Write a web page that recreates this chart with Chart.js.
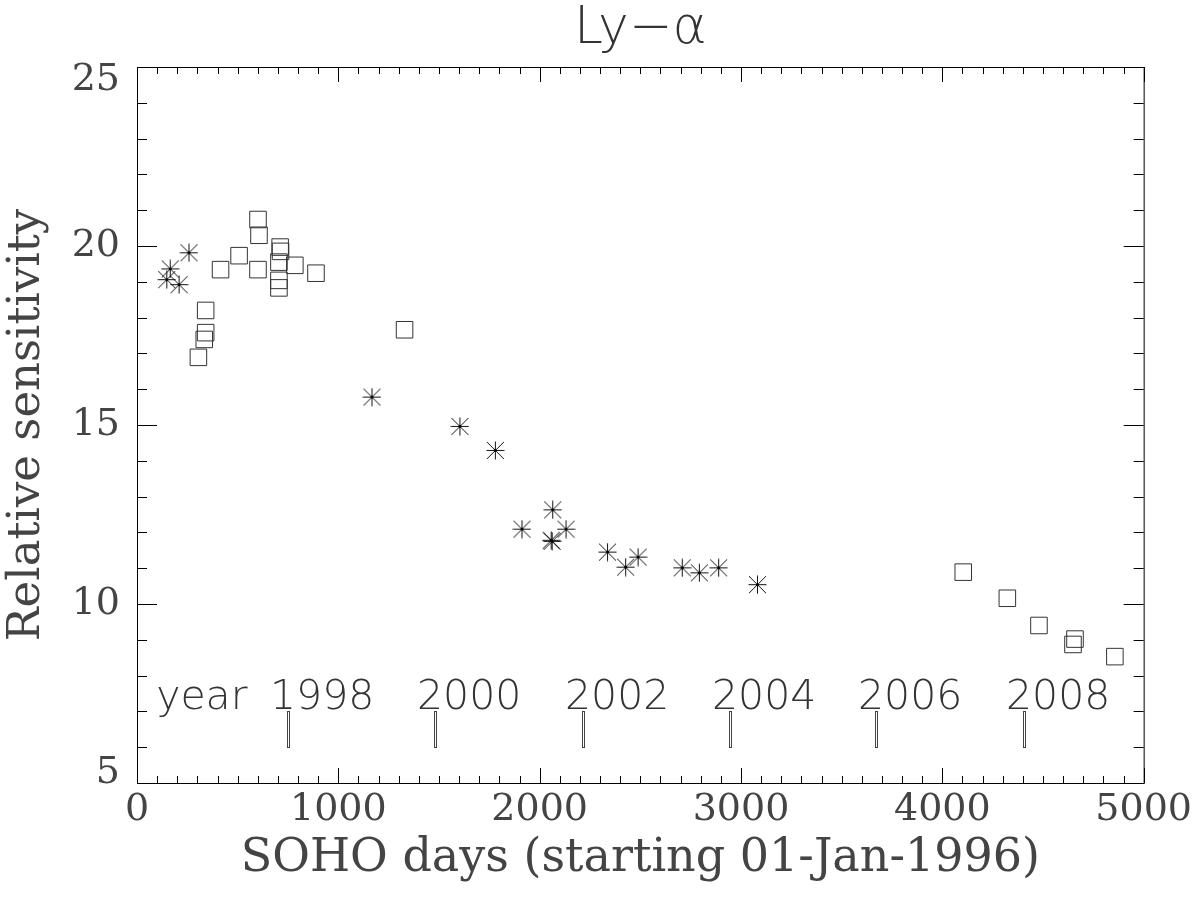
<!DOCTYPE html>
<html>
<head>
<meta charset="utf-8">
<script src="https://cdn.jsdelivr.net/npm/chart.js@4"></script>
<style>
  body { margin: 0; background: #fff; }
</style>
</head>
<body>
<canvas id="lyaChart" width="1200" height="911"></canvas>
<script>
// Ly-alpha relative sensitivity vs SOHO days
const starDays = [148, 165, 209, 258, 1167, 1604, 1780, 1912, 2065, 2062, 2057, 2131, 2337, 2427, 2489, 2708, 2793, 2889, 3082];
const starValues = [19.06, 19.36, 18.92, 19.81, 15.78, 14.96, 14.29, 12.09, 12.63, 11.75, 11.78, 12.09, 11.45, 11.03, 11.31, 11.01, 10.87, 11.01, 10.54];

const squareDays = [305, 334, 341, 341, 415, 507, 601, 601, 606, 705, 705, 705, 711, 713, 784, 889, 1329, 4104, 4323, 4480, 4649, 4659, 4857];
const squareValues = [16.89, 17.39, 17.58, 18.20, 19.34, 19.73, 20.74, 19.34, 20.30, 19.55, 19.04, 18.83, 19.97, 19.85, 19.46, 19.24, 17.66, 10.89, 10.16, 9.40, 8.87, 9.02, 8.53];

// year markers along the bottom
const yearDays = [751, 1482, 2213, 2946, 3672, 4404];
const yearLabels = ['1998', '2000', '2002', '2004', '2006', '2008'];
const markerRange = [6, 7];
const yearLabelLevel = 7.07;
const yearWordDay = 95;

const xTicks = [0, 1000, 2000, 3000, 4000, 5000];
const yTicks = [5, 10, 15, 20, 25];
const chartTitle = 'Ly\u2212\u03b1';

// asterisk marker, 8 rays
function makeAsterisk() {
    const c = document.createElement('canvas');
    c.width = 19;
    c.height = 19;
    const g = c.getContext('2d');
    g.strokeStyle = '#111';
    g.lineWidth = 1;
    g.beginPath();
    g.moveTo(0.5, 9.5); g.lineTo(18.5, 9.5);
    g.moveTo(9.5, 0.5); g.lineTo(9.5, 18.5);
    g.moveTo(1, 1); g.lineTo(18, 18);
    g.moveTo(18, 1); g.lineTo(1, 18);
    g.stroke();
    g.fillStyle = '#000';
    g.fillRect(8.5, 8.5, 2, 2);
    return c;
}

const serif = '"DejaVu Serif", serif';
const sans = '"DejaVu Sans", sans-serif';

// title, box, inward ticks, y labels and year markers
const framePlugin = {
    id: 'frame',
    afterDraw(chart) {
        const { ctx, chartArea: a, scales: { x, y } } = chart;
        ctx.save();
        ctx.strokeStyle = '#000';
        ctx.lineWidth = 1;
        ctx.strokeRect(a.left + 0.5, a.top + 0.5, a.right - a.left, a.bottom - a.top);

        ctx.beginPath();
        for (let d = x.min; d <= x.max; d += 100) {
            const px = Math.round(x.getPixelForValue(d)) + 0.5;
            const len = d % 1000 === 0 ? 15 : 7;
            ctx.moveTo(px, a.bottom); ctx.lineTo(px, a.bottom - len);
            ctx.moveTo(px, a.top); ctx.lineTo(px, a.top + len);
        }
        for (let v = y.min; v <= y.max; v += 1) {
            const py = Math.round(y.getPixelForValue(v)) + 0.5;
            const len = v % 5 === 0 ? 20 : 10;
            ctx.moveTo(a.left, py); ctx.lineTo(a.left + len, py);
            ctx.moveTo(a.right, py); ctx.lineTo(a.right - len, py);
        }
        ctx.stroke();

        // y tick labels, end labels kept inside the box like the original
        ctx.fillStyle = '#444';
        ctx.font = '38px ' + serif;
        ctx.textAlign = 'right';
        ctx.textBaseline = 'middle';
        yTicks.forEach(v => {
            const py = Math.min(Math.max(y.getPixelForValue(v), a.top + 13), a.bottom - 10);
            ctx.fillText(String(v), a.left - 17, py);
        });

        // title centred on the plot box
        ctx.fillStyle = '#333';
        ctx.font = '200 52px ' + sans;
        ctx.textAlign = 'center';
        ctx.textBaseline = 'alphabetic';
        ctx.fillText(chartTitle, (a.left + a.right) / 2, 43);

        ctx.textAlign = 'left';
        ctx.strokeStyle = '#444';
        ctx.font = '200 41px ' + sans;
        const top = Math.round(y.getPixelForValue(markerRange[1]));
        const bot = Math.round(y.getPixelForValue(markerRange[0]));
        const labelY = y.getPixelForValue(yearLabelLevel);
        yearDays.forEach((d, i) => {
            const px = Math.round(x.getPixelForValue(d));
            ctx.strokeRect(px - 1 + 0.5, top + 0.5, 2, bot - top);
            ctx.fillText(yearLabels[i], px - 18, labelY);
        });
        ctx.fillText('year', x.getPixelForValue(yearWordDay), labelY);
        ctx.restore();
    }
};

const ctxLya = document.getElementById('lyaChart').getContext('2d');
const lyaChart = new Chart(ctxLya, {
    type: 'scatter',
    data: {
        datasets: [
            {
                label: 'asterisks',
                data: starDays.map((d, i) => ({ x: d, y: starValues[i] })),
                pointStyle: makeAsterisk(),
                pointRadius: 9,
            },
            {
                label: 'squares',
                data: squareDays.map((d, i) => ({ x: d, y: squareValues[i] })),
                pointStyle: 'rect',
                pointRadius: 11.7,
                borderColor: '#333',
                backgroundColor: 'rgba(0,0,0,0)',
                borderWidth: 1,
            }
        ]
    },
    options: {
        responsive: false,
        animation: false,
        devicePixelRatio: 1,
        events: [],
        layout: { padding: { left: 0, right: 52, top: 67, bottom: 0 } },
        scales: {
            x: {
                type: 'linear',
                min: 0,
                max: 5000,
                afterBuildTicks: (s) => { s.ticks = xTicks.map(v => ({ value: v })); },
                afterFit: (s) => { s.height = 128; },
                grid: { display: false, drawTicks: false },
                border: { display: false },
                ticks: {
                    padding: 8,
                    maxRotation: 0,
                    color: '#444',
                    font: { family: serif, size: 38, lineHeight: 1 },
                    callback: (v) => String(v),
                },
                title: {
                    display: true,
                    text: 'SOHO days (starting 01-Jan-1996)',
                    color: '#444',
                    font: { family: serif, size: 46, lineHeight: 1.2 },
                    padding: { top: 0, bottom: 24 },
                },
            },
            y: {
                min: 5,
                max: 25,
                afterBuildTicks: (s) => { s.ticks = yTicks.map(v => ({ value: v })); },
                afterFit: (s) => { s.width = 137; },
                grid: { display: false, drawTicks: false },
                border: { display: false },
                ticks: { display: false },
                title: {
                    display: true,
                    text: 'Relative sensitivity',
                    color: '#444',
                    font: { family: serif, size: 45, lineHeight: 1.2 },
                    padding: { top: 0, bottom: 0 },
                },
            },
        },
        plugins: {
            legend: { display: false },
            tooltip: { enabled: false },
            title: { display: false },
        },
    },
    plugins: [framePlugin],
});
</script>
</body>
</html>
